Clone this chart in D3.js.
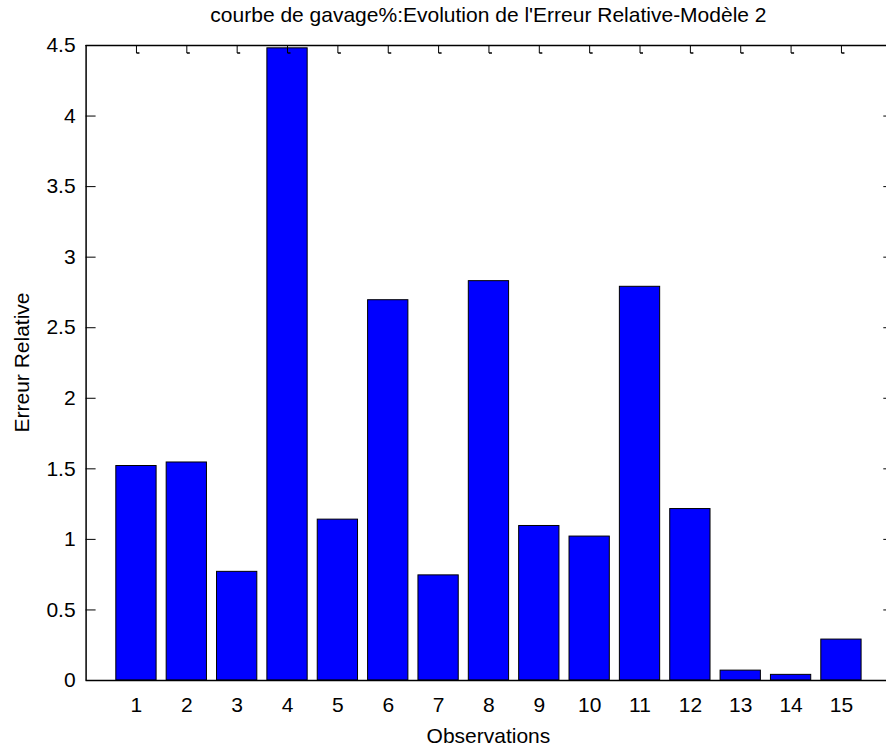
<!DOCTYPE html>
<html>
<head>
<meta charset="utf-8">
<script src="https://cdn.jsdelivr.net/npm/d3@7"></script>
<style>
  body { margin: 0; background: #fff; overflow: hidden; }
  text { font-family: "Liberation Sans", Arial, sans-serif; fill: #000; }
</style>
</head>
<body>
<div id="chart"></div>
<script>
// observation numbers on the x axis
var observations = [1, 2, 3, 4, 5, 6, 7, 8, 9, 10, 11, 12, 13, 14, 15];
// relative error for each observation
var erreurs = [1.52, 1.545, 0.77, 4.48, 1.14, 2.695, 0.745, 2.83, 1.095, 1.02, 2.79, 1.215, 0.07, 0.04, 0.29];
var yTicks = [0, 0.5, 1, 1.5, 2, 2.5, 3, 3.5, 4, 4.5];

var titre = "courbe de gavage%:Evolution de l'Erreur Relative-Modèle 2";
var xLabel = "Observations";
var yLabel = "Erreur Relative";

var W = 886, H = 749;
// the axes box runs a bit past the right edge of the picture (cropped)
var margin = {top: 45, left: 85.6};
var width = 805.7;
var height = 635;

var svg = d3.select("#chart")
            .append("svg")
              .attr("width", W)
              .attr("height", H)
            .append("g")
              .attr("transform", "translate(" + margin.left + "," + margin.top + ")");

var x = d3.scaleLinear()
          .domain([0, 16])
          .range([0, width]);
var y = d3.scaleLinear()
          .domain([0, 4.5])
          .range([height, 0]);
var barW = x(0.8) - x(0);

// bars
svg.selectAll(".bar")
   .data(observations)
   .enter()
   .append("rect")
     .attr("class", "bar")
     .attr("x", function(d) { return x(d) - barW / 2; })
     .attr("y", function(d, i) { return y(erreurs[i]); })
     .attr("width", barW)
     .attr("height", function(d, i) { return y(0) - y(erreurs[i]); })
     .style("fill", "#0000ff")
     .style("stroke", "#000")
     .style("stroke-width", 1);

// top line of the box
svg.append("line").attr("x1", 0).attr("x2", width).attr("y1", 0.5).attr("y2", 0.5)
   .style("stroke", "#000").style("stroke-width", 1.5);

// bottom axis
var xAxis = svg.append("g")
   .attr("transform", "translate(0," + height + ")")
   .call(d3.axisBottom(x).tickValues(observations).tickSize(0).tickPadding(17).tickFormat(d3.format("d")));
xAxis.select(".domain").attr("d", "M0,0.5H" + width).style("stroke-width", 1.5);
xAxis.selectAll("text").style("font-size", "21px").style("font-family", "Liberation Sans, Arial, sans-serif");

// top ticks, pointing down, with the little hook
var topTicks = svg.append("g")
   .call(d3.axisTop(x).tickValues(observations).tickSize(-8).tickFormat(""))
   .call(function(g) { g.select(".domain").remove(); });
topTicks.selectAll(".tick").append("line")
   .attr("x1", 0).attr("x2", 3).attr("y1", 8).attr("y2", 8)
   .style("stroke", "#000").style("stroke-width", 1.5);

// left axis
var yAxis = svg.append("g")
   .call(d3.axisLeft(y).tickValues(yTicks).tickSize(-10).tickPadding(10).tickFormat(d3.format("")));
yAxis.select(".domain").attr("d", "M0.5,0V" + height).style("stroke-width", 1.5);
yAxis.selectAll("text").style("font-size", "21px").style("font-family", "Liberation Sans, Arial, sans-serif");

// right ticks, pointing left
svg.append("g")
   .attr("transform", "translate(" + width + ",0)")
   .call(d3.axisRight(y).tickValues(yTicks).tickSize(-8).tickFormat(""))
   .call(function(g) { g.select(".domain").remove(); });

// title
svg.append("text")
   .attr("x", width / 2)
   .attr("y", -23)
   .style("text-anchor", "middle")
   .style("font-size", "21px")
   .text(titre);

// axis labels
svg.append("text")
   .attr("x", width / 2)
   .attr("y", height + 63)
   .style("text-anchor", "middle")
   .style("font-size", "21px")
   .text(xLabel);

svg.append("text")
   .attr("transform", "rotate(-90)")
   .attr("x", -height / 2)
   .attr("y", -57)
   .style("text-anchor", "middle")
   .style("font-size", "21px")
   .text(yLabel);
</script>
</body>
</html>
